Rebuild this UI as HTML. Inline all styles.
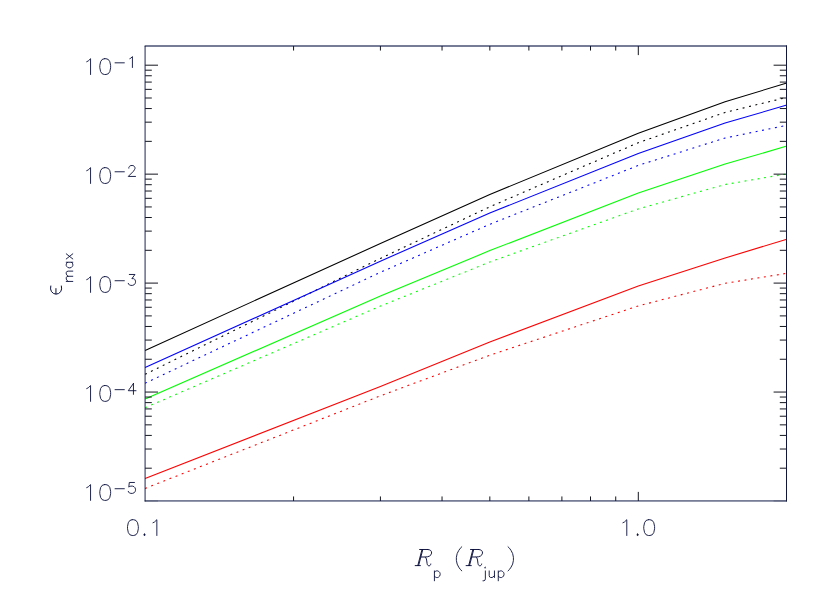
<!DOCTYPE html>
<html><head><meta charset="utf-8"><title>chart</title>
<style>html,body{margin:0;padding:0;background:#fff;font-family:"Liberation Sans",sans-serif;}svg{display:block}</style>
</head><body>
<svg width="830" height="593" viewBox="0 0 830 593">
<rect width="830" height="593" fill="#fff"/>
<g fill="none" stroke-width="1.08" stroke-linejoin="round">
<polyline points="145.1,350.4 380.4,243.5 489.8,194.5 638.3,133.3 725.1,101.8 786.8,83.0" stroke="#000000"/>
<polyline points="145.1,374.3 380.4,258.4 489.8,206.8 638.3,142.7 725.1,112.4 786.8,97.4" stroke="#000000" stroke-dasharray="1.95 4.6"/>
<polyline points="145.1,367.6 380.4,261.2 489.8,213.0 638.3,153.6 725.1,123.1 786.8,105.0" stroke="#0000ff"/>
<polyline points="145.1,383.2 380.4,272.3 489.8,224.3 638.3,165.4 725.1,138.0 786.8,125.3" stroke="#0000ff" stroke-dasharray="1.95 4.6"/>
<polyline points="145.1,398.9 380.4,296.1 489.8,250.6 638.3,193.1 725.1,164.1 786.8,146.1" stroke="#00ff00"/>
<polyline points="145.1,407.7 380.4,306.1 489.8,262.0 638.3,208.9 725.1,184.5 786.8,173.9" stroke="#00ff00" stroke-dasharray="1.95 4.6"/>
<polyline points="145.1,478.4 380.4,386.6 489.8,341.9 638.3,286.1 725.1,258.0 786.8,239.2" stroke="#ff0000"/>
<polyline points="145.1,488.4 380.4,395.8 489.8,355.2 638.3,305.9 725.1,283.3 786.8,273.3" stroke="#ff0000" stroke-dasharray="1.95 4.6"/>
</g>
<path d="M145.10,501.00 h12.90 M786.50,501.00 h-12.90" fill="none" stroke="#3a3a40" stroke-opacity="0.4" stroke-width="1.1"/>
<path d="M145.10,468.20 h6.70 M786.50,468.20 h-6.70 M145.10,449.02 h6.70 M786.50,449.02 h-6.70 M145.10,435.41 h6.70 M786.50,435.41 h-6.70 M145.10,424.85 h6.70 M786.50,424.85 h-6.70 M145.10,416.22 h6.70 M786.50,416.22 h-6.70 M145.10,408.93 h6.70 M786.50,408.93 h-6.70 M145.10,402.61 h6.70 M786.50,402.61 h-6.70 M145.10,397.04 h6.70 M786.50,397.04 h-6.70 M145.10,392.05 h12.90 M786.50,392.05 h-12.90 M145.10,359.25 h6.70 M786.50,359.25 h-6.70 M145.10,340.07 h6.70 M786.50,340.07 h-6.70 M145.10,326.46 h6.70 M786.50,326.46 h-6.70 M145.10,315.90 h6.70 M786.50,315.90 h-6.70 M145.10,307.27 h6.70 M786.50,307.27 h-6.70 M145.10,299.98 h6.70 M786.50,299.98 h-6.70 M145.10,293.66 h6.70 M786.50,293.66 h-6.70 M145.10,288.09 h6.70 M786.50,288.09 h-6.70 M145.10,283.10 h12.90 M786.50,283.10 h-12.90 M145.10,250.30 h6.70 M786.50,250.30 h-6.70 M145.10,231.12 h6.70 M786.50,231.12 h-6.70 M145.10,217.51 h6.70 M786.50,217.51 h-6.70 M145.10,206.95 h6.70 M786.50,206.95 h-6.70 M145.10,198.32 h6.70 M786.50,198.32 h-6.70 M145.10,191.03 h6.70 M786.50,191.03 h-6.70 M145.10,184.71 h6.70 M786.50,184.71 h-6.70 M145.10,179.14 h6.70 M786.50,179.14 h-6.70 M145.10,174.15 h12.90 M786.50,174.15 h-12.90 M145.10,141.35 h6.70 M786.50,141.35 h-6.70 M145.10,122.17 h6.70 M786.50,122.17 h-6.70 M145.10,108.56 h6.70 M786.50,108.56 h-6.70 M145.10,98.00 h6.70 M786.50,98.00 h-6.70 M145.10,89.37 h6.70 M786.50,89.37 h-6.70 M145.10,82.08 h6.70 M786.50,82.08 h-6.70 M145.10,75.76 h6.70 M786.50,75.76 h-6.70 M145.10,70.19 h6.70 M786.50,70.19 h-6.70 M145.10,65.20 h12.90 M786.50,65.20 h-12.90 M293.57,501.00 v-4.55 M293.57,46.00 v4.55 M380.42,501.00 v-4.55 M380.42,46.00 v4.55 M442.04,501.00 v-4.55 M442.04,46.00 v4.55 M489.83,501.00 v-4.55 M489.83,46.00 v4.55 M528.88,501.00 v-4.55 M528.88,46.00 v4.55 M561.90,501.00 v-4.55 M561.90,46.00 v4.55 M590.50,501.00 v-4.55 M590.50,46.00 v4.55 M615.73,501.00 v-4.55 M615.73,46.00 v4.55 M638.30,501.00 v-9.10 M638.30,46.00 v9.10" fill="none" stroke="#14161f" stroke-width="1"/>
<rect x="144.64" y="45.440" width="642.36" height="1.120" fill="#0b1444"/>
<rect x="144.610" y="46.00" width="0.920" height="455.49" fill="#0b1444"/>
<rect x="144.64" y="500.450" width="642.36" height="0.980" fill="#0b1444"/>
<rect x="786.000" y="45.50" width="1.000" height="455.95" fill="#12163a"/>
<path d="M86.69,487.62 L88.24,486.86 L90.55,484.61 L90.55,500.40 M104.45,484.61 L102.13,485.36 L100.59,487.62 L99.82,491.38 L99.82,493.63 L100.59,497.39 L102.13,499.65 L104.45,500.40 L105.99,500.40 L108.31,499.65 L109.85,497.39 L110.62,493.63 L110.62,491.38 L109.85,487.62 L108.31,485.36 L105.99,484.61 L104.45,484.61 M115.06,488.72 L124.33,488.72 M134.47,482.48 L129.31,482.48 L128.80,487.16 L129.31,486.64 L130.86,486.12 L132.41,486.12 L133.95,486.64 L134.98,487.68 L135.50,489.24 L135.50,490.28 L134.98,491.84 L133.95,492.88 L132.41,493.40 L130.86,493.40 L129.31,492.88 L128.80,492.36 L128.28,491.32 M86.69,388.57 L88.24,387.81 L90.55,385.56 L90.55,401.35 M104.45,385.56 L102.13,386.31 L100.59,388.57 L99.82,392.33 L99.82,394.58 L100.59,398.34 L102.13,400.60 L104.45,401.35 L105.99,401.35 L108.31,400.60 L109.85,398.34 L110.62,394.58 L110.62,392.33 L109.85,388.57 L108.31,386.31 L105.99,385.56 L104.45,385.56 M115.06,389.67 L124.33,389.67 M133.44,383.43 L128.28,390.71 L136.01,390.71 M133.44,383.43 L133.44,394.35 M86.69,279.62 L88.24,278.86 L90.55,276.61 L90.55,292.40 M104.45,276.61 L102.13,277.36 L100.59,279.62 L99.82,283.38 L99.82,285.63 L100.59,289.39 L102.13,291.65 L104.45,292.40 L105.99,292.40 L108.31,291.65 L109.85,289.39 L110.62,285.63 L110.62,283.38 L109.85,279.62 L108.31,277.36 L105.99,276.61 L104.45,276.61 M115.06,280.72 L124.33,280.72 M129.31,274.48 L134.98,274.48 L131.89,278.64 L133.44,278.64 L134.47,279.16 L134.98,279.68 L135.50,281.24 L135.50,282.28 L134.98,283.84 L133.95,284.88 L132.41,285.40 L130.86,285.40 L129.31,284.88 L128.80,284.36 L128.28,283.32 M86.69,170.67 L88.24,169.91 L90.55,167.66 L90.55,183.45 M104.45,167.66 L102.13,168.41 L100.59,170.67 L99.82,174.43 L99.82,176.68 L100.59,180.44 L102.13,182.70 L104.45,183.45 L105.99,183.45 L108.31,182.70 L109.85,180.44 L110.62,176.68 L110.62,174.43 L109.85,170.67 L108.31,168.41 L105.99,167.66 L104.45,167.66 M115.06,171.77 L124.33,171.77 M128.80,168.13 L128.80,167.61 L129.31,166.57 L129.83,166.05 L130.86,165.53 L132.92,165.53 L133.95,166.05 L134.47,166.57 L134.98,167.61 L134.98,168.65 L134.47,169.69 L133.44,171.25 L128.28,176.45 L135.50,176.45 M86.69,61.72 L88.24,60.96 L90.55,58.71 L90.55,74.50 M104.45,58.71 L102.13,59.46 L100.59,61.72 L99.82,65.48 L99.82,67.73 L100.59,71.49 L102.13,73.75 L104.45,74.50 L105.99,74.50 L108.31,73.75 L109.85,71.49 L110.62,67.73 L110.62,65.48 L109.85,61.72 L108.31,59.46 L105.99,58.71 L104.45,58.71 M115.06,62.82 L124.33,62.82 M129.83,58.66 L130.86,58.14 L132.41,56.58 L132.41,67.50 M132.15,519.71 L129.83,520.46 L128.29,522.72 L127.52,526.48 L127.52,528.73 L128.29,532.49 L129.83,534.75 L132.15,535.50 L133.69,535.50 L136.01,534.75 L137.55,532.49 L138.32,528.73 L138.32,526.48 L137.55,522.72 L136.01,520.46 L133.69,519.71 L132.15,519.71 M144.50,534.00 L143.73,534.75 L144.50,535.50 L145.27,534.75 L144.50,534.00 M144.19,534.75 L144.81,534.75 M144.50,535.05 L144.50,534.45 M152.99,522.72 L154.54,521.96 L156.85,519.71 L156.85,535.50 M622.93,522.72 L624.48,521.96 L626.79,519.71 L626.79,535.50 M637.60,534.00 L636.83,534.75 L637.60,535.50 L638.37,534.75 L637.60,534.00 M637.29,534.75 L637.91,534.75 M637.60,535.05 L637.60,534.45 M648.41,519.71 L646.09,520.46 L644.55,522.72 L643.78,526.48 L643.78,528.73 L644.55,532.49 L646.09,534.75 L648.41,535.50 L649.95,535.50 L652.27,534.75 L653.81,532.49 L654.58,528.73 L654.58,526.48 L653.81,522.72 L652.27,520.46 L649.95,519.71 L648.41,519.71 M434.41,570.92 L434.41,580.79 M434.41,572.33 L435.37,571.39 L436.32,570.92 L437.76,570.92 L438.71,571.39 L439.67,572.33 L440.15,573.74 L440.15,574.68 L439.67,576.09 L438.71,577.03 L437.76,577.50 L436.32,577.50 L435.37,577.03 L434.41,576.09 M461.79,546.80 L460.25,548.30 L458.70,550.56 L457.16,553.57 L456.39,557.33 L456.39,560.34 L457.16,564.10 L458.70,567.10 L460.25,569.36 L461.79,570.86 M484.89,567.63 L485.37,568.10 L485.85,567.63 L485.37,567.16 L484.89,567.63 M485.37,570.92 L485.37,578.91 L484.89,580.32 L483.93,580.79 L482.98,580.79 M489.19,570.92 L489.19,575.62 L489.67,577.03 L490.63,577.50 L492.06,577.50 L493.02,577.03 L494.45,575.62 M494.45,570.92 L494.45,577.50 M498.27,570.92 L498.27,580.79 M498.27,572.33 L499.23,571.39 L500.19,570.92 L501.62,570.92 L502.58,571.39 L503.53,572.33 L504.01,573.74 L504.01,574.68 L503.53,576.09 L502.58,577.03 L501.62,577.50 L500.19,577.50 L499.23,577.03 L498.27,576.09 M508.02,546.80 L509.56,548.30 L511.10,550.56 L512.65,553.57 L513.42,557.33 L513.42,560.34 L512.65,564.10 L511.10,567.10 L509.56,569.36 L508.02,570.86 M66.25,281.43 L72.80,281.43 M68.12,281.43 L66.72,280.02 L66.25,279.09 L66.25,277.68 L66.72,276.75 L68.12,276.28 L72.80,276.28 M68.12,276.28 L66.72,274.88 L66.25,273.94 L66.25,272.54 L66.72,271.60 L68.12,271.13 L72.80,271.13 M66.25,262.24 L72.80,262.24 M67.65,262.24 L66.72,263.18 L66.25,264.11 L66.25,265.52 L66.72,266.45 L67.65,267.39 L69.06,267.86 L69.99,267.86 L71.40,267.39 L72.33,266.45 L72.80,265.52 L72.80,264.11 L72.33,263.18 L71.40,262.24 M66.25,258.96 L72.80,253.82 M66.25,253.82 L72.80,258.96" fill="none" stroke="#080d3a" stroke-width="0.9" stroke-linecap="round" stroke-linejoin="round"/>
<path d="M50.85,285.6 L50.55,288.9 L51.45,291.6 L53.6,293.5 L56.05,294.15 L58.6,293.5 L60.75,291.6 L61.6,288.9 L61.3,285.6 M55.95,288.2 L55.95,294.1" fill="none" stroke="#080d3a" stroke-width="1.0" stroke-linecap="butt" stroke-linejoin="round"/>
<g transform="translate(414.80,565.60)" fill="none" stroke="#080d3a" stroke-width="0.95" stroke-linecap="round" stroke-linejoin="round"><path d="M0.4,0 L5.6,0 M7.2,-16.1 L3,0 M8.0,-16.1 L3.8,0 M4.8,-16.1 L13,-16.1 M13,-16.1 C15.5,-16.1 17,-14.6 16.8,-12.5 C16.5,-10 14,-8.6 10.5,-8.6 L5.8,-8.6 M10.5,-8.6 C11.6,-8 11.8,-6 12.3,-2 C12.6,-0.2 13.5,0.3 14.5,0.2 C15.5,0 16,-1 16,-1.6"/></g>
<g transform="translate(465.70,565.60)" fill="none" stroke="#080d3a" stroke-width="0.95" stroke-linecap="round" stroke-linejoin="round"><path d="M0.4,0 L5.6,0 M7.2,-16.1 L3,0 M8.0,-16.1 L3.8,0 M4.8,-16.1 L13,-16.1 M13,-16.1 C15.5,-16.1 17,-14.6 16.8,-12.5 C16.5,-10 14,-8.6 10.5,-8.6 L5.8,-8.6 M10.5,-8.6 C11.6,-8 11.8,-6 12.3,-2 C12.6,-0.2 13.5,0.3 14.5,0.2 C15.5,0 16,-1 16,-1.6"/></g>
</svg>
</body></html>
